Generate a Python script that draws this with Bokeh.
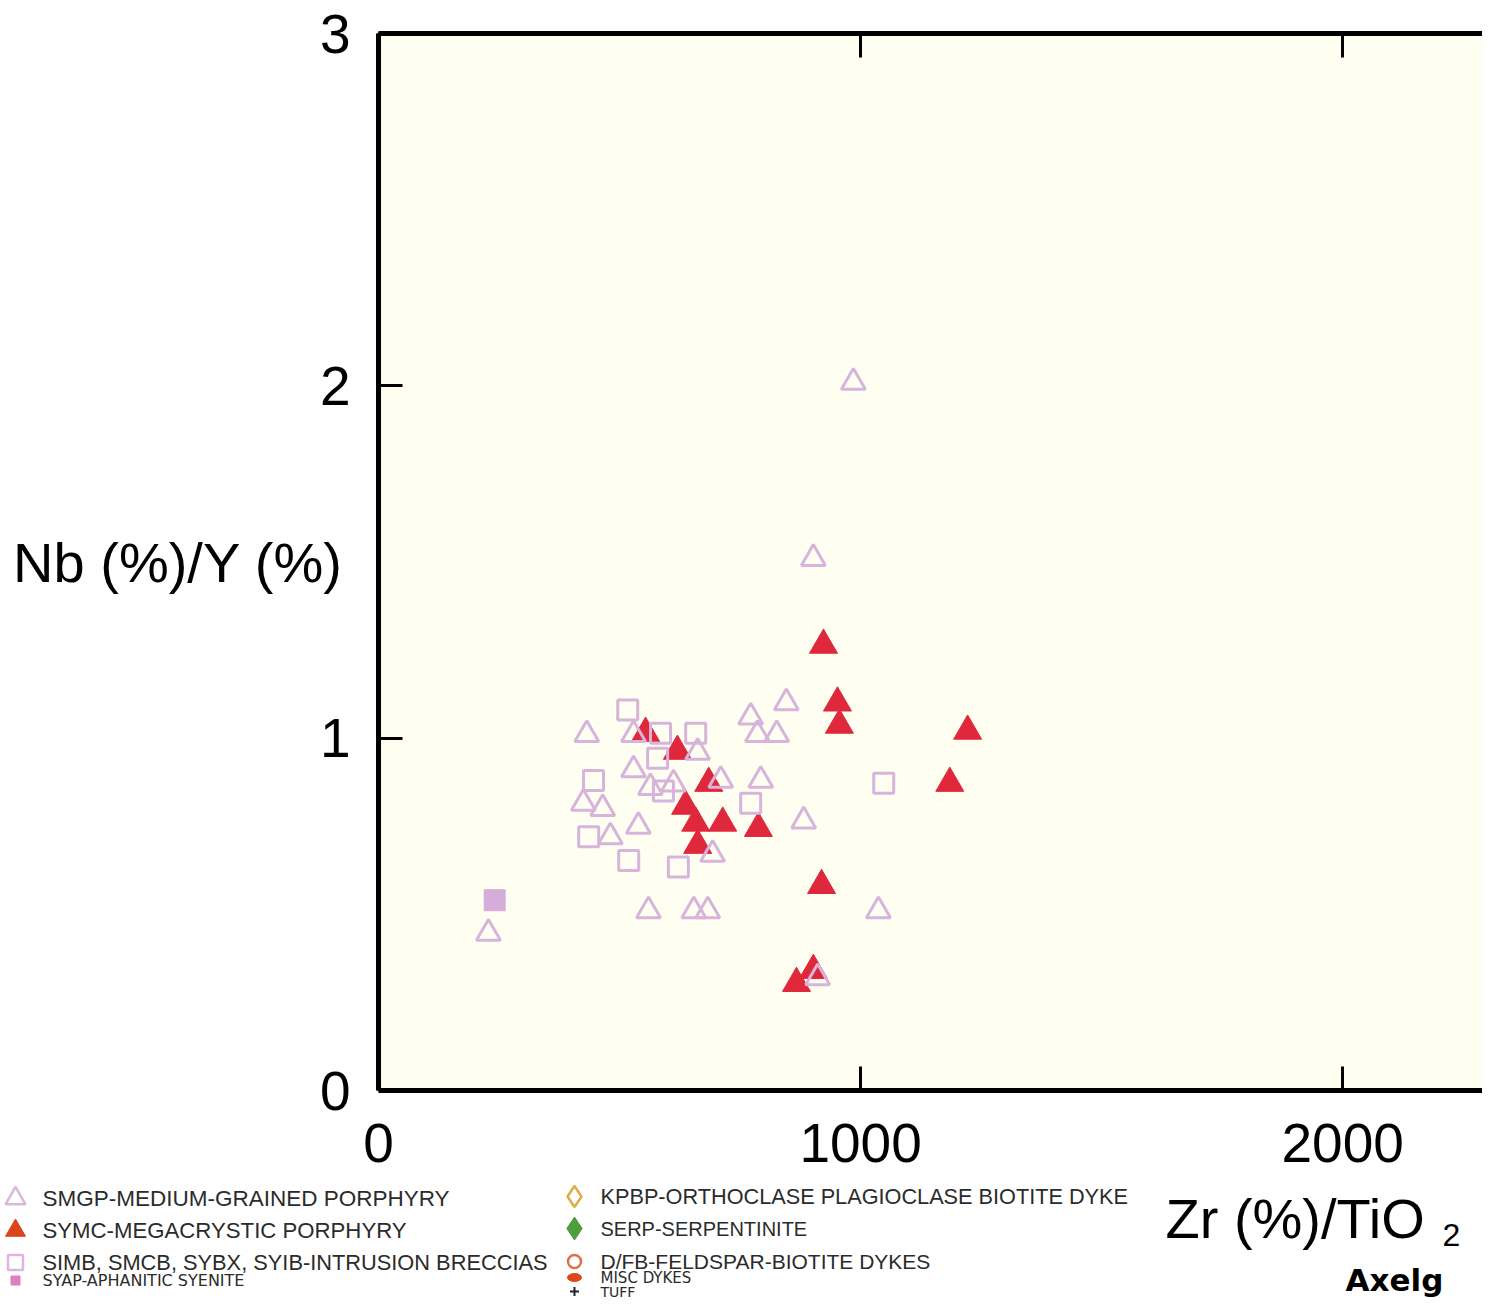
from bokeh.plotting import figure
from bokeh.layouts import column
from bokeh.models import LinearAxis, FixedTicker, Range1d, Label
from bokeh.embed import file_html
from bokeh.resources import INLINE

# ---------------- data (Zr(%)/TiO2 , Nb(%)/Y(%)) ----------------
smgp_zr = [985, 902, 432, 529, 772, 846, 786, 826, 662, 529, 564, 612, 710, 793,
           425, 465, 539, 481, 882, 693, 560, 654, 683, 1037, 228, 911]
smgp_nb = [2.01, 1.51, 1.01, 1.01, 1.06, 1.10, 1.01, 1.01, 0.96, 0.91, 0.86, 0.87, 0.88, 0.88,
           0.815, 0.80, 0.75, 0.72, 0.765, 0.67, 0.51, 0.51, 0.51, 0.51, 0.446, 0.32]

symc_zr = [554, 620, 685, 637, 658, 714, 788, 662, 923, 952, 956, 1222, 1185, 919, 902, 867]
symc_nb = [1.014, 0.963, 0.872, 0.807, 0.759, 0.759, 0.744, 0.696, 1.264, 1.10, 1.037,
           1.02, 0.872, 0.582, 0.341, 0.304]

simb_zr = [517, 585, 658, 579, 446, 591, 772, 436, 519, 622, 1048]
simb_nb = [1.08, 1.014, 1.014, 0.943, 0.88, 0.85, 0.815, 0.72, 0.653, 0.634, 0.872]

syap_zr = [241]
syap_nb = [0.54]

# categories listed in the legend that have no samples on this diagram
kpbp_zr, kpbp_nb = [], []
serp_zr, serp_nb = [], []
dfb_zr, dfb_nb = [], []
misc_zr, misc_nb = [], []
tuff_zr, tuff_nb = [], []

x_ticks = [0, 1000, 2000]
y_ticks = [0, 1, 2, 3]

labels = {
    "smgp": "SMGP-MEDIUM-GRAINED PORPHYRY",
    "symc": "SYMC-MEGACRYSTIC PORPHYRY",
    "simb": "SIMB, SMCB, SYBX, SYIB-INTRUSION BRECCIAS",
    "syap": "SYAP-APHANITIC SYENITE",
    "kpbp": "KPBP-ORTHOCLASE PLAGIOCLASE BIOTITE DYKE",
    "serp": "SERP-SERPENTINITE",
    "dfb": "D/FB-FELDSPAR-BIOTITE DYKES",
    "misc": "MISC DYKES",
    "tuff": "TUFF",
}
x_title = "Zr (%)/TiO"
x_title_sub = "2"
y_title = "Nb (%)/Y (%)"
credit = "Axelg"

# ---------------- styling ----------------
PINK = "#d7b4dc"
PINK_FILL = "#d6acda"
RED = "#e0283c"
FONT = "Liberation Sans"

W = 1482
H_MAIN = 1180
H_LEG = 118

p = figure(width=W, height=H_MAIN, output_backend="svg", toolbar_location=None,
           x_range=Range1d(0, 2290), y_range=Range1d(0, 3),
           min_border_left=378, min_border_right=0, min_border_top=33, min_border_bottom=90)
p.frame_align = False
p.grid.visible = False
p.outline_line_color = None
p.background_fill_color = "#fffff1"
p.border_fill_color = "white"

xb = p.xaxis[0]
yl = p.yaxis[0]
xt = LinearAxis()
p.add_layout(xt, "above")

for ax in (xb, yl, xt):
    ax.axis_line_width = 5
    ax.axis_line_color = "black"
    ax.major_tick_in = 24
    ax.major_tick_out = 0
    ax.major_tick_line_width = 3
    ax.major_tick_line_color = "black"
    ax.minor_tick_line_color = None
    ax.major_label_text_font = FONT
    ax.major_label_text_font_size = "55px"
    ax.major_label_text_color = "black"

xb.ticker = FixedTicker(ticks=x_ticks)
xt.ticker = FixedTicker(ticks=x_ticks)
yl.ticker = FixedTicker(ticks=y_ticks)
xb.major_label_standoff = 33
yl.major_label_standoff = 28
xt.major_label_text_font_size = "1px"
xt.major_label_text_alpha = 0
xt.major_label_standoff = 0

yl.axis_label = y_title
yl.axis_label_orientation = "horizontal"
yl.axis_label_text_font = FONT
yl.axis_label_text_font_size = "56px"
yl.axis_label_text_font_style = "normal"
yl.axis_label_text_color = "black"
yl.axis_label_standoff = -26

# ---------------- data glyphs ----------------
p.scatter(symc_zr, symc_nb, marker="triangle", size=28,
          fill_color=RED, line_color=RED, line_width=1)
p.scatter(simb_zr, simb_nb, marker="square", size=20,
          fill_color=None, line_color=PINK, line_width=3)
p.scatter(syap_zr, syap_nb, marker="square", size=21,
          fill_color=PINK_FILL, line_color=PINK_FILL, line_width=1)
p.scatter(smgp_zr, smgp_nb, marker="triangle", size=24,
          fill_color=None, line_color=PINK, line_width=3)

# ---------------- legend panel (its coordinates are page pixels) ----------------
lg = figure(width=W, height=H_LEG, output_backend="svg", toolbar_location=None,
            x_range=Range1d(0, W), y_range=Range1d(H_MAIN + H_LEG, H_MAIN),
            min_border=0, x_axis_location=None, y_axis_location=None)
lg.frame_align = False
lg.grid.visible = False
lg.outline_line_color = None
lg.background_fill_color = "white"
lg.border_fill_color = "white"

# key style per category
key_style = {
    "smgp": dict(marker="triangle", size=20, fill_color=None, line_color="#dcb6e0", line_width=2.5),
    "symc": dict(marker="triangle", size=20, fill_color="#d9461c", line_color="#d9461c", line_width=1),
    "simb": dict(marker="square", size=15, fill_color=None, line_color="#dcb6e0", line_width=2.5),
    "syap": dict(marker="square", size=9, fill_color="#e07cc2", line_color="#e07cc2", line_width=1),
    "kpbp": dict(marker="diamond", size=21, fill_color=None, line_color="#e0ac48", line_width=2.5),
    "serp": dict(marker="diamond", size=23, fill_color="#4f9e3c", line_color="#4f9e3c", line_width=1),
    "dfb": dict(marker="circle", size=13, fill_color=None, line_color="#e0704a", line_width=2.5),
    "misc": None,
    "tuff": dict(marker="cross", size=9, fill_color=None, line_color="#222222", line_width=2),
}

# legend layout: key, key x, row y, text x, font, font size
legend_rows = [
    ("smgp", 15, 1198, 42, FONT, "22.5px"),
    ("symc", 15, 1230, 42, FONT, "22.2px"),
    ("simb", 15, 1262, 42, FONT, "21.8px"),
    ("syap", 15, 1280, 42, "DejaVu Sans", "16px"),
    ("kpbp", 574, 1196, 600, FONT, "21.7px"),
    ("serp", 574, 1228, 600, FONT, "20px"),
    ("dfb", 574, 1261, 600, FONT, "21px"),
    ("misc", 574, 1277, 600, "DejaVu Sans", "15px"),
    ("tuff", 574, 1291, 600, "DejaVu Sans", "14px"),
]
for key, kx, ky, tx, font, fs in legend_rows:
    st = key_style[key]
    if st is None:
        lg.ellipse(x=[kx], y=[ky], width=14, height=8, fill_color="#e0461a", line_color="#e0461a")
    else:
        lg.scatter(x=[kx], y=[ky], **st)
    lg.add_layout(Label(x=tx, y=ky, text=labels[key], text_font=font, text_font_size=fs,
                        text_baseline="middle", text_align="left", text_color="#2b2b2b"))


def page_text(text, left, y, size, style="normal", font=FONT, base="middle"):
    lg.add_layout(Label(x=left, y=y, text=text, text_font=font, text_font_size=size,
                        text_font_style=style, text_baseline=base, text_align="left",
                        text_color="black"))


page_text(x_title, 1165, 1218, "56px")
page_text(x_title_sub, 1442, 1234, "32px")
page_text(credit, 1345, 1297, "31px", style="bold", font="DejaVu Sans", base="bottom")

layout = column(p, lg, spacing=0)
open("out.html", "w").write(file_html(layout, INLINE))
